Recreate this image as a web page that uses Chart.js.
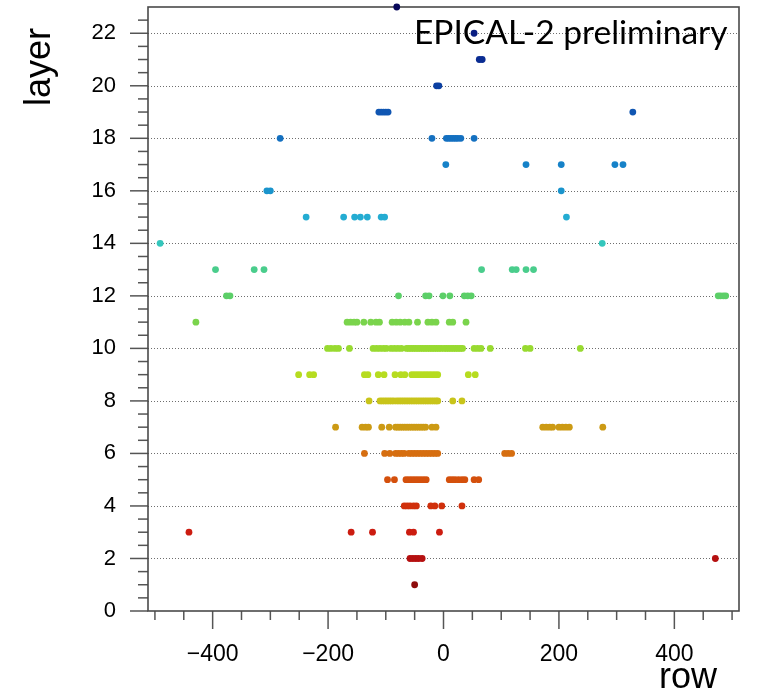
<!DOCTYPE html>
<html>
<head>
<meta charset="utf-8">
<script src="https://cdn.jsdelivr.net/npm/chart.js@4/dist/chart.umd.min.js"></script>
<style>
  html, body { margin: 0; padding: 0; background: #ffffff; }
  canvas { display: block; }
</style>
</head>
<body>
<canvas id="chart" width="758" height="692"></canvas>
<script>
// Hit rows per detector layer (row index along the x axis)
const rowsL01 = [-50];
const rowsL02 = [-58, -53, -48, -43, -37, 471];
const rowsL03 = [-441, -160, -123, -59, -52, -7];
const rowsL04 = [-68, -63, -58, -52, -47, -22, -15, -3, 32];
const rowsL05 = [-97, -85, -65, -60, -55, -50, -45, -40, -35, -30, 10, 15, 20, 26, 32, 37, 53, 61];
const rowsL06 = [-137, -102, -93, -83, -78, -73, -68, -60, -55, -50, -45, -40, -35, -30, -25, -20, -15, -10, 106, 112, 118];
const rowsL07 = [-187, -141, -135, -130, -107, -94, -83, -79, -75, -71, -67, -63, -59, -55, -51, -47, -43, -39, -35, -31, -20, -13, 172, 178, 184, 189, 200, 206, 212, 218, 276];
const rowsL08 = [-129, -110, -106, -102, -98, -94, -90, -86, -81, -77, -73, -69, -65, -61, -57, -53, -49, -45, -41, -37, -33, -29, -25, -21, -17, -13, -10, 16, 32];
const rowsL09 = [-251, -232, -225, -137, -131, -113, -103, -84, -74, -67, -55, -50, -45, -40, -35, -30, -25, -20, -15, -10, 43, 55];
const rowsL10 = [-201, -195, -188, -182, -163, -122, -116, -110, -104, -99, -91, -85, -79, -73, -64, -60, -56, -52, -48, -44, -40, -36, -32, -28, -24, -20, -16, -12, -8, -4, 1, 5, 9, 13, 17, 21, 25, 29, 33, 53, 59, 65, 81, 142, 150, 237];
const rowsL11 = [-429, -167, -161, -155, -150, -138, -126, -117, -111, -89, -82, -75, -67, -60, -45, -27, -20, -13, 10, 16, 39];
const rowsL12 = [-376, -370, -78, -31, -25, -1, 11, 36, 42, 48, 476, 480, 485, 489];
const rowsL13 = [-395, -328, -311, 66, 119, 126, 143, 156];
const rowsL14 = [-491, 275];
const rowsL15 = [-238, -173, -154, -144, -132, -108, -102, 213];
const rowsL16 = [-306, -300, 204];
const rowsL17 = [4, 143, 204, 297, 311];
const rowsL18 = [-283, -20, 5, 9, 13, 17, 21, 25, 30, 53];
const rowsL19 = [-112, -108, -104, -100, -96, 328];
const rowsL20 = [-12, -8];
const rowsL21 = [62, 67];
const rowsL22 = [53];
const rowsL23 = [-81];

const layerRows = [rowsL01, rowsL02, rowsL03, rowsL04, rowsL05, rowsL06, rowsL07, rowsL08,
  rowsL09, rowsL10, rowsL11, rowsL12, rowsL13, rowsL14, rowsL15, rowsL16, rowsL17, rowsL18,
  rowsL19, rowsL20, rowsL21, rowsL22, rowsL23];

// Colour per layer, red (front) to dark blue (back)
const layerColors = ['#8e0c0c', '#b51010', '#cc1c10', '#d0300c', '#d4500c', '#d66e10', '#cc9a14',
  '#c8c41a', '#b6dc20', '#98da30', '#7ad44c', '#5ccf68', '#4acd8c', '#34c6bc', '#24acd2',
  '#1a94cc', '#1682c8', '#1470c0', '#1056b2', '#0c40a2', '#0a2c92', '#0a1e82', '#08085a'];

// Axis ticks
const xMajorTicks = [-400, -200, 0, 200, 400];
const xMinorTicks = [-500, -450, -350, -300, -250, -150, -100, -50, 50, 100, 150, 250, 300, 350, 450, 500];
const yMajorTicks = [0, 2, 4, 6, 8, 10, 12, 14, 16, 18, 20, 22];
const yMinorTicks = [0.5, 1, 1.5, 2.5, 3, 3.5, 4.5, 5, 5.5, 6.5, 7, 7.5, 8.5, 9, 9.5, 10.5, 11, 11.5,
  12.5, 13, 13.5, 14.5, 15, 15.5, 16.5, 17, 17.5, 18.5, 19, 19.5, 20.5, 21, 21.5, 22.5];
const yGridLines = [2, 4, 6, 8, 10, 12, 14, 16, 18, 20, 22];

const datasets = layerRows.map((rows, i) => ({
  label: 'layer ' + (i + 1),
  data: rows.map(r => ({ x: r, y: i + 1 })),
  backgroundColor: layerColors[i],
  borderColor: layerColors[i],
  borderWidth: 0,
  pointRadius: 3.4,
  pointHoverRadius: 3.4,
  clip: false
}));

const fmt = v => (v < 0 ? '\u2212' + Math.abs(v) : String(v));

// Frame, dotted grid lines and tick marks
const framePlugin = {
  id: 'frame',
  beforeDatasetsDraw(chart) {
    const { ctx, chartArea: a, scales } = chart;
    ctx.save();
    ctx.strokeStyle = '#6e6e6e';
    ctx.lineWidth = 1;
    ctx.setLineDash([1, 2]);
    yGridLines.forEach(v => {
      const y = Math.round(scales.y.getPixelForValue(v)) + 0.5;
      ctx.beginPath();
      ctx.moveTo(a.left, y);
      ctx.lineTo(a.right, y);
      ctx.stroke();
    });
    ctx.setLineDash([]);

    ctx.strokeStyle = '#555555';
    ctx.lineWidth = 1.5;
    // y ticks (outside, to the left)
    yMajorTicks.forEach(v => {
      const y = scales.y.getPixelForValue(v);
      ctx.beginPath(); ctx.moveTo(a.left - 18, y); ctx.lineTo(a.left, y); ctx.stroke();
    });
    yMinorTicks.forEach(v => {
      const y = scales.y.getPixelForValue(v);
      ctx.beginPath(); ctx.moveTo(a.left - 10, y); ctx.lineTo(a.left, y); ctx.stroke();
    });
    // x ticks (outside, below)
    xMajorTicks.forEach(v => {
      const x = scales.x.getPixelForValue(v);
      ctx.beginPath(); ctx.moveTo(x, a.bottom); ctx.lineTo(x, a.bottom + 18); ctx.stroke();
    });
    xMinorTicks.forEach(v => {
      const x = scales.x.getPixelForValue(v);
      ctx.beginPath(); ctx.moveTo(x, a.bottom); ctx.lineTo(x, a.bottom + 9); ctx.stroke();
    });
    // plot frame
    ctx.strokeStyle = '#4a4a4a';
    ctx.lineWidth = 1.6;
    ctx.strokeRect(a.left, a.top, a.right - a.left, a.bottom - a.top);
    ctx.restore();
  },
  afterDraw(chart) {
    const { ctx } = chart;
    ctx.save();
    ctx.fillStyle = '#000000';
    ctx.font = '36px "Liberation Sans", Arial, sans-serif';
    ctx.textAlign = 'right';
    ctx.textBaseline = 'alphabetic';
    ctx.fillText('row', 717, 688);

    ctx.save();
    ctx.translate(50, 67);
    ctx.rotate(-Math.PI / 2);
    ctx.textAlign = 'center';
    ctx.fillText('layer', 0, 0);
    ctx.restore();

    ctx.font = '33.5px Lato, "Open Sans", sans-serif';
    ctx.textAlign = 'left';
    ctx.fillText('EPICAL-2 preliminary', 414, 44);
    ctx.restore();
  }
};

new Chart(document.getElementById('chart'), {
  type: 'scatter',
  data: { datasets },
  options: {
    responsive: false,
    animation: false,
    events: [],
    layout: { padding: { left: 0, right: 19, top: 7, bottom: 0 } },
    plugins: { legend: { display: false }, tooltip: { enabled: false } },
    scales: {
      x: {
        type: 'linear',
        min: -512,
        max: 512,
        grid: { display: false },
        border: { display: false },
        afterBuildTicks: s => { s.ticks = xMajorTicks.map(v => ({ value: v })); },
        afterFit: s => { s.height = 81; s.paddingLeft = 0; s.paddingRight = 0; },
        ticks: {
          color: '#000000',
          padding: 22,
          maxRotation: 0,
          autoSkip: false,
          font: { family: '"Liberation Sans", Arial, sans-serif', size: 23 },
          callback: v => fmt(v)
        }
      },
      y: {
        type: 'linear',
        min: 0,
        max: 23,
        grid: { display: false },
        border: { display: false },
        afterBuildTicks: s => { s.ticks = yMajorTicks.map(v => ({ value: v })); },
        afterFit: s => { s.width = 148; s.paddingTop = 0; s.paddingBottom = 0; },
        ticks: {
          color: '#000000',
          padding: 24,
          autoSkip: false,
          font: { family: '"Liberation Sans", Arial, sans-serif', size: 22 },
          callback: v => fmt(v)
        }
      }
    }
  },
  plugins: [framePlugin]
});
</script>
</body>
</html>
